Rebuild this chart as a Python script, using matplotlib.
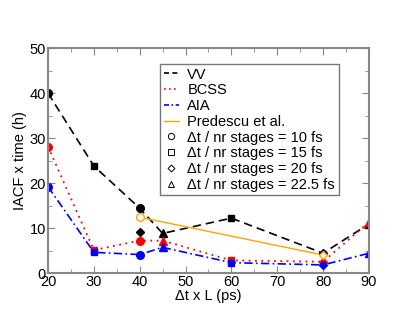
import matplotlib
matplotlib.use("Agg")
import matplotlib.pyplot as plt
from matplotlib.lines import Line2D
from matplotlib.ticker import MultipleLocator

plt.rcParams['font.family'] = ['Liberation Sans', 'DejaVu Sans']

# connected series: x, y, marker per point
vv_x = [20, 30, 40, 45, 60, 80, 90]
vv_y = [40.0, 23.8, 14.4, 8.8, 12.2, 4.4, 10.9]
bcss_x = [20, 30, 40, 45, 60, 80, 90]
bcss_y = [28.1, 5.1, 7.2, 7.2, 2.8, 2.5, 11.3]
aia_x = [20, 30, 40, 45, 60, 80, 90]
aia_y = [19.2, 4.6, 4.1, 5.7, 2.3, 1.8, 4.4]
pred_x = [40, 80]
pred_y = [12.4, 4.0]
markers = ['o', 's', 'o', '^', 's', 'D', '^']
pred_markers = ['o', 'D']
# extra standalone point
vv_extra_x = [40]
vv_extra_y = [9.2]

msize = {'o': 5.5, 's': 5.0, '^': 5.5, 'D': 4.5}
fs = 10.5

fig = plt.figure(figsize=(4.15, 3.21), dpi=100)
ax = fig.add_axes([0.1157, 0.1495, 0.7733, 0.7005])

ax.plot(vv_x, vv_y, color='black', ls=(0, (5, 3)), lw=1.2)
ax.plot(bcss_x, bcss_y, color='red', ls=(0, (1, 2.5)), lw=1.3)
ax.plot(aia_x, aia_y, color='blue', ls=(0, (5, 2, 1, 2)), lw=1.2)
ax.plot(pred_x, pred_y, color='orange', ls='-', lw=1.0)

for xs, ys, c in [(vv_x, vv_y, 'black'), (bcss_x, bcss_y, 'red'), (aia_x, aia_y, 'blue')]:
    for x, y, m in zip(xs, ys, markers):
        ax.plot([x], [y], marker=m, color=c, ms=msize[m], ls='none')
ax.plot(vv_extra_x, vv_extra_y, marker='D', color='black', ms=msize['D'], ls='none')
for x, y, m in zip(pred_x, pred_y, pred_markers):
    ax.plot([x], [y], marker=m, mfc='white', mec='orange', ms=msize[m], ls='none', mew=1.0)

ax.set_xlim(20, 90)
ax.set_ylim(0, 50)
ax.xaxis.set_major_locator(MultipleLocator(10))
ax.xaxis.set_minor_locator(MultipleLocator(5))
ax.yaxis.set_major_locator(MultipleLocator(10))
ax.yaxis.set_minor_locator(MultipleLocator(5))
ax.tick_params(which='both', direction='in', top=True, right=True, color='#888888',
               labelsize=fs, pad=1.5)
ax.tick_params(which='major', length=5)
ax.tick_params(which='minor', length=3)
for s in ax.spines.values():
    s.set_color('#888888')
    s.set_linewidth(1.5)
ax.set_xlabel('Δt x L (ps)', fontsize=fs, labelpad=0)
ax.set_ylabel('IACF x time (h)', fontsize=fs, labelpad=2)

handles = [
    Line2D([], [], color='black', ls=(0, (3, 2)), lw=1.2),
    Line2D([], [], color='red', ls=(0, (1, 2)), lw=1.2),
    Line2D([], [], color='blue', ls=(0, (3, 1.5, 1, 1.5)), lw=1.2),
    Line2D([], [], color='orange', ls='-', lw=1.0),
    Line2D([], [], color='black', marker='o', mfc='white', ms=4.5, ls='none', mew=0.7),
    Line2D([], [], color='black', marker='s', mfc='white', ms=4, ls='none', mew=0.7),
    Line2D([], [], color='black', marker='D', mfc='white', ms=3.5, ls='none', mew=0.7),
    Line2D([], [], color='black', marker='^', mfc='white', ms=4.5, ls='none', mew=0.7),
]
labels = ['VV', 'BCSS', 'AIA', 'Predescu et al.',
          'Δt / nr stages = 10 fs', 'Δt / nr stages = 15 fs',
          'Δt / nr stages = 20 fs', 'Δt / nr stages = 22.5 fs']
leg = ax.legend(handles, labels, loc='upper left', bbox_to_anchor=(0.35, 0.93),
                fontsize=fs, frameon=True, fancybox=False, handlelength=1.0,
                handletextpad=0.6, labelspacing=0.12, borderpad=0.25, borderaxespad=0)
leg.get_frame().set_edgecolor('#555555')
leg.get_frame().set_linewidth(1.0)

fig.savefig('out.png', dpi=100)
